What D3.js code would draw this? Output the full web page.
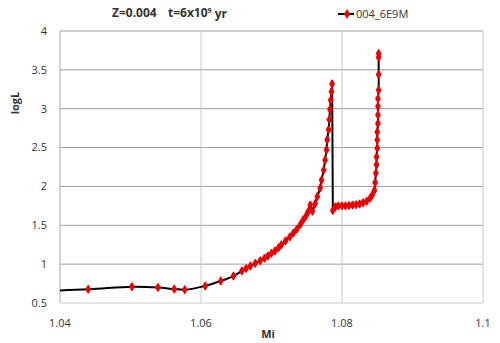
<!DOCTYPE html>
<html>
<head>
<meta charset="utf-8">
<script src="https://cdn.jsdelivr.net/npm/d3@7"></script>
<style>
  body { margin: 0; background: #fff; }
  text { font-family: "Open Sans", "Liberation Sans", sans-serif; fill: #333; }
</style>
</head>
<body>
<svg id="chart" width="500" height="343" viewBox="0 0 500 343"></svg>
<script>
// Mi (x) and logL (y)
const mi = [1.0350, 1.0440, 1.0502, 1.0539, 1.0562, 1.0577, 1.0606, 1.0628, 1.0646, 1.0658,
  1.0664, 1.0670, 1.0677, 1.0684, 1.0690, 1.0695, 1.0700, 1.0705, 1.0710, 1.0714,
  1.0720, 1.0726, 1.0731, 1.0736, 1.0741, 1.0745, 1.0749, 1.0752, 1.0755, 1.0758,
  1.0762, 1.0765, 1.0769, 1.0771, 1.0774, 1.0776, 1.0778, 1.0779, 1.0781, 1.0782,
  1.0783, 1.0784, 1.0785, 1.0786,
  1.0787, 1.0791, 1.0795, 1.0800, 1.0805, 1.0810, 1.0815, 1.0820, 1.0825, 1.0830,
  1.0835, 1.0840, 1.0843, 1.0846, 1.0847, 1.0848, 1.0849, 1.0849, 1.0850, 1.0850,
  1.0850, 1.0851, 1.0851, 1.0851, 1.0851, 1.0852, 1.0852, 1.0852, 1.0852]
const logL = [0.645, 0.676, 0.710, 0.700, 0.680, 0.671, 0.720, 0.783, 0.847, 0.912,
  0.945, 0.976, 1.010, 1.044, 1.075, 1.105, 1.140, 1.170, 1.210, 1.250,
  1.300, 1.350, 1.400, 1.450, 1.510, 1.570, 1.620, 1.675, 1.760, 1.680,
  1.780, 1.870, 1.980, 2.080, 2.210, 2.340, 2.470, 2.600, 2.730, 2.860,
  2.990, 3.110, 3.220, 3.320,
  1.690, 1.740, 1.750, 1.750, 1.750, 1.755, 1.760, 1.765, 1.775, 1.790,
  1.810, 1.850, 1.890, 1.950, 2.050, 2.170, 2.280, 2.380, 2.490, 2.600,
  2.700, 2.810, 2.920, 3.030, 3.130, 3.240, 3.440, 3.660, 3.710]

const xTicks = [1.04, 1.06, 1.08, 1.1]
const yTicks = [0.5, 1, 1.5, 2, 2.5, 3, 3.5, 4]
const seriesName = "004_6E9M"

const svg = d3.select("#chart")
const x = d3.scaleLinear().domain([1.04, 1.1]).range([60, 483])
const y = d3.scaleLinear().domain([0.5, 4]).range([303, 31])

const pts = mi.map((d, i) => ({x: d, y: logL[i]}))
// where the track jumps down (the black drop line)
const jump = 44

// grid
svg.append("g").selectAll("line").data(yTicks.slice(1)).enter().append("line")
  .attr("x1", x(1.04)).attr("x2", x(1.1))
  .attr("y1", d => y(d)).attr("y2", d => y(d))
  .attr("stroke", "#9e9e9e").attr("stroke-width", 1)
svg.append("g").selectAll("line").data(xTicks.slice(1)).enter().append("line")
  .attr("x1", d => x(d)).attr("x2", d => x(d))
  .attr("y1", y(0.5)).attr("y2", y(4))
  .attr("stroke", "#c8c8c8").attr("stroke-width", 1)
// axis lines
svg.append("line").attr("x1", x(1.04)).attr("x2", x(1.04)).attr("y1", y(0.5)).attr("y2", y(4))
  .attr("stroke", "#a8a8a8")
svg.append("line").attr("x1", x(1.04)).attr("x2", x(1.1)).attr("y1", y(0.5)).attr("y2", y(0.5))
  .attr("stroke", "#c8c8c8")

// tick labels
svg.append("g").selectAll("text").data(yTicks).enter().append("text")
  .attr("x", 47).attr("y", d => y(d)).attr("dy", "0.35em")
  .attr("text-anchor", "end").attr("font-size", 11)
  .text(d => d)
svg.append("g").selectAll("text").data(xTicks).enter().append("text")
  .attr("x", d => x(d)).attr("y", 323).attr("dy", "0.35em")
  .attr("text-anchor", "middle").attr("font-size", 11)
  .text(d => d)

svg.append("text").attr("x", 268).attr("y", 334).attr("dy", "0.35em")
  .attr("text-anchor", "middle").attr("font-size", 11).attr("font-weight", "bold")
  .text("Mi")
svg.append("text").attr("transform", "translate(15,103) rotate(-90)").attr("dy", "0.35em")
  .attr("text-anchor", "middle").attr("font-size", 11).attr("font-weight", "bold")
  .text("logL")

// title
const title = svg.append("text").attr("x", 112).attr("y", 13).attr("dy", "0.35em")
  .attr("font-size", 12).attr("font-weight", "bold").attr("fill", "#222")
title.append("tspan").text("Z=0.004")
title.append("tspan").attr("x", 168).text("t=6x10")
title.append("tspan").attr("font-size", 7).attr("dy", "-0.6em").text("9")
title.append("tspan").attr("dy", "0.45em").text("\u00a0yr")

// clip
svg.append("clipPath").attr("id", "clip").append("rect")
  .attr("x", x(1.04)).attr("y", y(4)).attr("width", x(1.1) - x(1.04)).attr("height", y(0.5) - y(4))

const smooth = d3.line().x(d => x(d.x)).y(d => y(d.y)).curve(d3.curveCatmullRom.alpha(0.5))
const straight = d3.line().x(d => x(d.x)).y(d => y(d.y))
const plot = svg.append("g").attr("clip-path", "url(#clip)")
const pieces = [
  {d: pts.slice(0, jump), f: smooth},
  {d: pts.slice(jump - 1, jump + 1), f: straight},
  {d: pts.slice(jump), f: smooth}
]
plot.selectAll(".trk").data(pieces).enter().append("path")
  .attr("class", "trk")
  .attr("d", p => p.f(p.d))
  .attr("fill", "none").attr("stroke", "#000").attr("stroke-width", 2)

const marker = d3.symbol().type(d3.symbolDiamond).size(15)
plot.selectAll(".m").data(pts).enter().append("path")
  .attr("class", "m")
  .attr("transform", d => `translate(${x(d.x)},${y(d.y)})`)
  .attr("d", marker)
  .attr("fill", "#ee0000").attr("stroke", "#ee0000").attr("stroke-width", 1.5)
  .attr("stroke-linejoin", "round")

// legend
const lg = svg.append("g").attr("transform", "translate(338,14)")
lg.append("line").attr("x1", 0).attr("x2", 16).attr("stroke", "#000").attr("stroke-width", 2)
lg.append("path").attr("transform", "translate(9,0)").attr("d", marker)
  .attr("fill", "#ee0000").attr("stroke", "#ee0000").attr("stroke-width", 1.5)
lg.append("text").attr("x", 18).attr("dy", "0.35em").attr("font-size", 11).attr("fill", "#444")
  .text(seriesName)
</script>
</body>
</html>
